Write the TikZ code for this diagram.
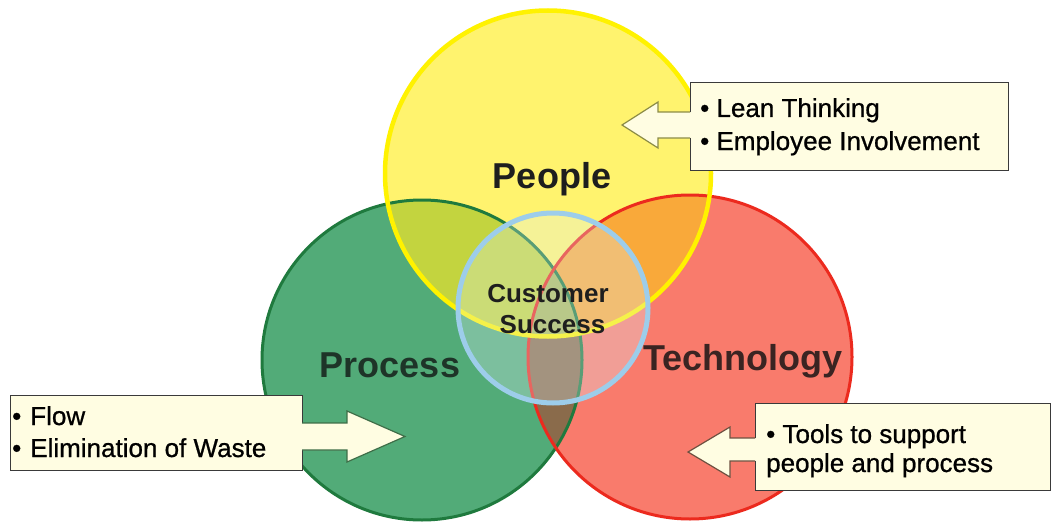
\documentclass[tikz,border=0pt]{standalone}
\usepackage{fontspec}
\setmainfont{Liberation Sans}
\newfontfamily\calloutfont{Liberation Sans}[FakeBold=0.8]
\usetikzlibrary{calc}

% circle fills and their overlaps
\definecolor{yelF}{HTML}{FFF36E}
\definecolor{grnF}{HTML}{52AB78}
\definecolor{redF}{HTML}{F97B6C}
\definecolor{ygF}{HTML}{C3D43F}
\definecolor{yrF}{HTML}{F9A93A}
\definecolor{grF}{HTML}{8A6B4B}
\definecolor{ygrF}{HTML}{A9B85A}
% circle outlines
\definecolor{yelB}{HTML}{FFF200}
\definecolor{grnB}{HTML}{1F7A3E}
\definecolor{redB}{HTML}{EC2A1E}
\definecolor{bluB}{HTML}{9DCDEA}
\definecolor{bluTint}{HTML}{E0F0F8}
% callouts
\definecolor{cream}{HTML}{FFFDE2}
\definecolor{boxLine}{HTML}{3A3A3A}
\definecolor{arrOlive}{HTML}{8C8C46}
\definecolor{arrGreen}{HTML}{3E6E48}
\definecolor{arrBrown}{HTML}{6E5040}
% label colours
\definecolor{inkP}{HTML}{1E1E1E}
\definecolor{inkG}{HTML}{1E3428}
\definecolor{inkR}{HTML}{3A2422}

\tikzset{
  ring/.style={circle, inner sep=0pt, outer sep=0pt},
  title/.style={font=\fontsize{36}{40}\selectfont\bfseries, inner sep=0pt, anchor=base},
  centre/.style={font=\fontsize{26}{30}\selectfont\bfseries, inner sep=0pt, anchor=base, text=inkP},
  boxtext/.style={font=\calloutfont\fontsize{26}{30}\selectfont, inner sep=0pt, anchor=base west, text=black},
  boxframe/.style={rectangle, inner sep=0pt, outer sep=0pt},
  boxedge/.style={draw=boxLine, line width=1pt},
}

\begin{document}
\begin{tikzpicture}[x=1pt, y=-1pt]
\useasboundingbox[fill=white] (0,0) rectangle (1055,527);

% centres of the three sets and the core
\coordinate (P) at (548,173.5);
\coordinate (G) at (422,360);
\coordinate (T) at (690,357);
\coordinate (C) at (553,308);

% base fills
\fill[grnF] (G) circle[radius=160pt];
\fill[redF] (T) circle[radius=162pt];
\fill[yelF] (P) circle[radius=163pt];
% pairwise overlaps
\begin{scope}
  \clip (G) circle[radius=160pt];
  \fill[grF] (T) circle[radius=162pt];
  \fill[ygF] (P) circle[radius=163pt];
\end{scope}
\begin{scope}
  \clip (T) circle[radius=162pt];
  \fill[yrF] (P) circle[radius=163pt];
\end{scope}
\begin{scope}
  \clip (G) circle[radius=160pt];
  \clip (T) circle[radius=162pt];
  \fill[ygrF] (P) circle[radius=163pt];
\end{scope}

% outlines of the three sets
\node[ring, minimum size=320pt, draw=grnB, line width=3pt] (process) at (G) {};
\node[ring, minimum size=324pt, draw=redB, line width=3pt] (technology) at (T) {};
\node[ring, minimum size=326pt, draw=yelB, line width=4.5pt] (people) at (P) {};

% customer success core
\fill[bluTint, opacity=0.3] (C) circle[radius=95pt];
\node[ring, minimum size=190pt, draw=bluB, line width=5pt] (success) at (C) {};

% set labels
\node[title, text=inkP] (lpeople) at (552,188) {People};
\node[title, text=inkG] (lprocess) at (390,377) {Process};
\node[title, text=inkR] (ltech) at (743,370) {Technology};
\node[centre] (cs1) at (548,302) {Customer};
\node[centre] (cs2) at (552.5,333) {Success};

% ---- People callout (arrow pointing left)
\node[boxframe, minimum width=318pt, minimum height=87pt] (tbox) at (849,126.5) {};
\coordinate (ta1) at (690,138);
\coordinate (ta2) at (658,138);
\coordinate (ta3) at (658,148);
\coordinate (ttip) at (622,125);
\coordinate (ta4) at (658,102);
\coordinate (ta5) at (658,112);
\coordinate (ta6) at (690,112);
\fill[cream] (ta6) -- (tbox.north west) -- (tbox.north east) -- (tbox.south east)
  -- (tbox.south west) -- (ta1) -- (ta2) -- (ta3) -- (ttip) -- (ta4) -- (ta5) -- cycle;
\draw[boxedge] (ta6) -- (tbox.north west) -- (tbox.north east) -- (tbox.south east)
  -- (tbox.south west) -- (ta1);
\draw[draw=arrOlive, line width=1.2pt, line join=miter] (ta1) -- (ta2) -- (ta3) -- (ttip) -- (ta4) -- (ta5) -- (ta6);
\node[boxtext] (t1) at (700,117) {• Lean Thinking};
\node[boxtext] (t2) at (700,150) {• Employee Involvement};

% ---- Process callout (arrow pointing right)
\node[boxframe, minimum width=292pt, minimum height=75pt] (lbox) at (156,432.5) {};
\coordinate (la1) at (302,423);
\coordinate (la2) at (347,423);
\coordinate (la3) at (347,411);
\coordinate (ltip) at (405,436.5);
\coordinate (la4) at (347,462);
\coordinate (la5) at (347,450);
\coordinate (la6) at (302,450);
\fill[cream] (la1) -- (lbox.north east) -- (lbox.north west) -- (lbox.south west)
  -- (lbox.south east) -- (la6) -- (la5) -- (la4) -- (ltip) -- (la3) -- (la2) -- cycle;
\draw[boxedge] (la1) -- (lbox.north east) -- (lbox.north west) -- (lbox.south west)
  -- (lbox.south east) -- (la6);
\draw[draw=arrGreen, line width=1.2pt, line join=miter] (la6) -- (la5) -- (la4) -- (ltip) -- (la3) -- (la2) -- (la1);
\node[boxtext] (l1) at (12,425) {•\hspace{9pt}Flow};
\node[boxtext] (l2) at (12,457) {•\hspace{9pt}Elimination of Waste};

% ---- Technology callout (arrow pointing left)
\node[boxframe, minimum width=295pt, minimum height=87pt] (rbox) at (902.5,446.5) {};
\coordinate (ra1) at (755,461);
\coordinate (ra2) at (730,461);
\coordinate (ra3) at (730,477);
\coordinate (rtip) at (688,452);
\coordinate (ra4) at (730,427);
\coordinate (ra5) at (730,438);
\coordinate (ra6) at (755,438);
\fill[cream] (ra6) -- (rbox.north west) -- (rbox.north east) -- (rbox.south east)
  -- (rbox.south west) -- (ra1) -- (ra2) -- (ra3) -- (rtip) -- (ra4) -- (ra5) -- cycle;
\draw[boxedge] (ra6) -- (rbox.north west) -- (rbox.north east) -- (rbox.south east)
  -- (rbox.south west) -- (ra1);
\draw[draw=arrBrown, line width=1.2pt, line join=miter] (ra1) -- (ra2) -- (ra3) -- (rtip) -- (ra4) -- (ra5) -- (ra6);
\node[boxtext] (r1) at (766,443) {• Tools to support};
\node[boxtext] (r2) at (766,472) {people and process};

\end{tikzpicture}
\end{document}
